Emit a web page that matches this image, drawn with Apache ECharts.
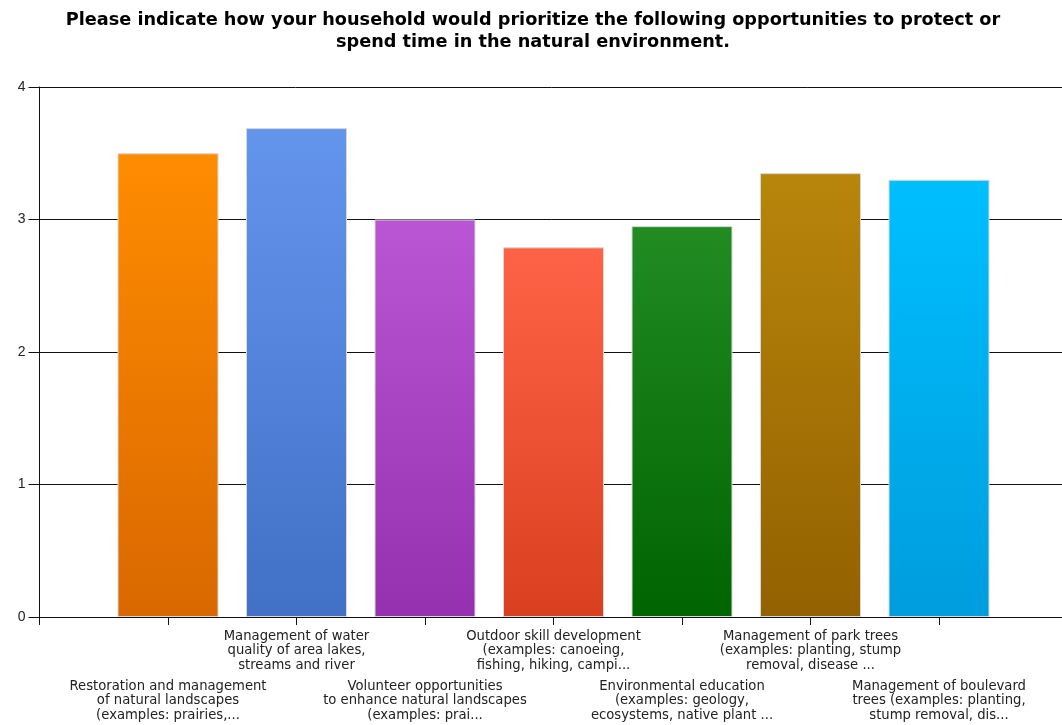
<!DOCTYPE html>
<html>
<head>
<meta charset="utf-8">
<script src="https://cdn.jsdelivr.net/npm/echarts@6/dist/echarts.min.js"></script>
<style>
  html, body { margin: 0; padding: 0; background: #fff; }
  #chart { width: 1062px; height: 725px; }
</style>
</head>
<body>
<div id="chart"></div>
<script>
// Survey opportunities (blank slots pad both ends of the axis)
const categories = [
  '',
  'Restoration and management\nof natural landscapes\n(examples: prairies,...',
  'Management of water\nquality of area lakes,\nstreams and river',
  'Volunteer opportunities\nto enhance natural landscapes\n(examples: prai...',
  'Outdoor skill development\n(examples: canoeing,\nfishing, hiking, campi...',
  'Environmental education\n(examples: geology,\necosystems, native plant ...',
  'Management of park trees\n(examples: planting, stump\nremoval, disease ...',
  'Management of boulevard\ntrees (examples: planting,\nstump removal, dis...',
  ''
];
// Average priority score per opportunity
const scores = ['-', 3.50, 3.69, 3.00, 2.79, 2.95, 3.35, 3.30, '-'];
// Top and bottom colours of each bar's gradient
const topColors = [null, '#FF8C00', '#6495ED', '#BA55D3', '#FF6347', '#228B22', '#B8860B', '#00BFFF', null];
const bottomColors = [null, '#D96800', '#4170C6', '#9530AE', '#D9401F', '#006400', '#936100', '#009DDD', null];
const yTicks = [0, 1, 2, 3, 4];

const chart = echarts.init(document.getElementById('chart'));
const labelFont = { fontFamily: 'DejaVu Sans', fontSize: 13.2, color: '#222', lineHeight: 14.5 };

chart.setOption({
  animation: false,
  title: {
    text: 'Please indicate how your household would prioritize the following opportunities to protect or\nspend time in the natural environment.',
    left: 528, top: 4, textAlign: 'center',
    textStyle: { fontFamily: 'DejaVu Sans', fontWeight: 'bold', fontSize: 17.7, color: '#000', lineHeight: 22 }
  },
  // the plot runs a little past the right edge of the canvas
  grid: { left: 39.5, top: 87, width: 1028, height: 530, containLabel: false, outerBoundsMode: 'none' },
  xAxis: [
    {
      type: 'category', data: categories, boundaryGap: false,
      axisLine: { lineStyle: { color: '#111', width: 1 } },
      axisTick: { length: 8, lineStyle: { color: '#111' }, interval: (i) => i < 8 },
      axisLabel: Object.assign({
        interval: 0, margin: 62, align: 'center',
        formatter: (v, i) => (i % 2 === 1 ? v : '')
      }, labelFont),
      splitLine: { show: false }
    },
    {
      type: 'category', data: categories, boundaryGap: false, position: 'bottom',
      axisLine: { show: false }, axisTick: { show: false },
      axisLabel: Object.assign({
        interval: 0, margin: 12, align: 'center',
        formatter: (v, i) => (i % 2 === 0 ? v : '')
      }, labelFont),
      splitLine: { show: false }
    }
  ],
  yAxis: {
    type: 'value', min: yTicks[0], max: yTicks[yTicks.length - 1], interval: 1,
    axisLine: { show: true, lineStyle: { color: '#111' } },
    axisTick: { show: true, length: 11, lineStyle: { color: '#111' } },
    axisLabel: { margin: 14, fontFamily: 'Liberation Sans', fontSize: 14, color: '#222' },
    splitLine: { show: true, lineStyle: { color: '#111', width: 1 } }
  },
  series: [{
    type: 'bar',
    xAxisIndex: 0,
    barWidth: 101,
    data: scores.map((v, i) => v === '-' ? v : {
      value: v,
      itemStyle: {
        color: new echarts.graphic.LinearGradient(0, 0, 0, 1, [
          { offset: 0, color: topColors[i] },
          { offset: 1, color: bottomColors[i] }
        ]),
        borderColor: '#d8d8d8', borderWidth: 1
      }
    })
  }]
});
</script>
</body>
</html>
